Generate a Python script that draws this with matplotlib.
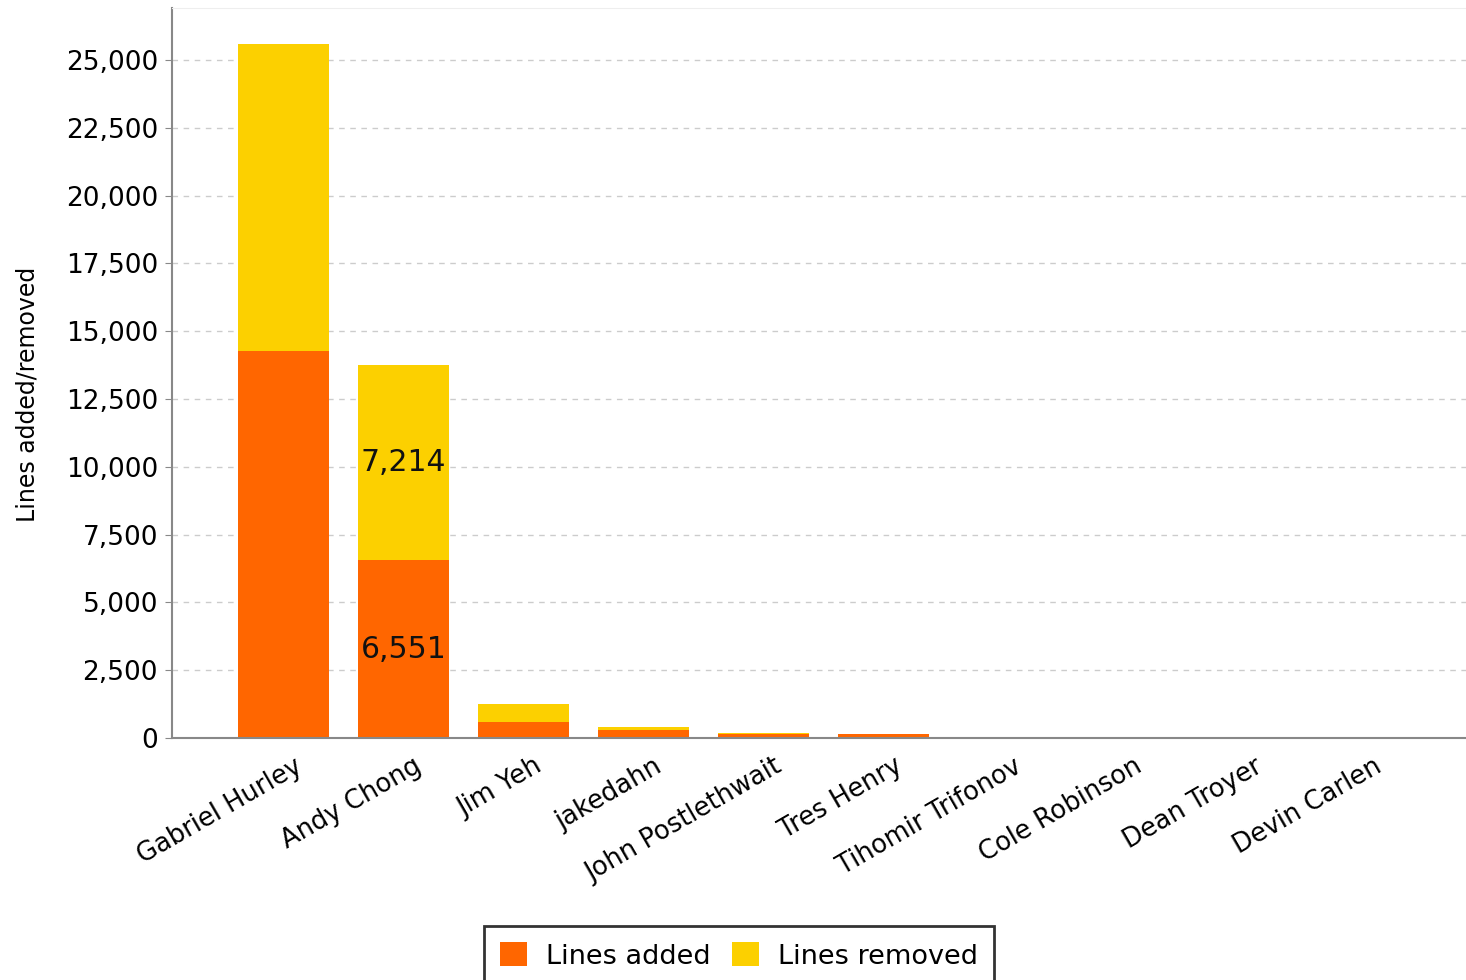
import matplotlib
matplotlib.use("Agg")
import matplotlib.pyplot as plt
import matplotlib.transforms as mtransforms
import numpy as np

# Contributors and their line counts
authors = ["Gabriel Hurley", "Andy Chong", "Jim Yeh", "jakedahn", "John Postlethwait",
           "Tres Henry", "Tihomir Trifonov", "Cole Robinson", "Dean Troyer", "Devin Carlen"]
lines_added = [14270, 6551, 600, 300, 150, 150, 15, 5, 5, 5]
lines_removed = [11320, 7214, 650, 90, 20, 10, 30, 5, 5, 5]

labelled = ["Andy Chong"]  # only these bars show value labels

orange = "#FF6600"
yellow = "#FCD000"

fig = plt.figure(figsize=(14.66, 9.8), dpi=100)
ax = fig.add_axes([0.1173, 0.247, 0.8827, 0.745])

x = np.arange(len(authors))
added = np.array(lines_added)
removed = np.array(lines_removed)

ax.bar(x, added, width=0.758, color=orange, zorder=2, label="Lines added")
ax.bar(x, removed, width=0.758, bottom=added, color=yellow, zorder=2, label="Lines removed")

# value labels in the middle of each segment
for i, name in enumerate(authors):
    if name in labelled:
        ax.text(x[i], added[i] / 2, f"{added[i]:,}", ha="center", va="center",
                fontsize=21.5, color="#111111", zorder=3)
        ax.text(x[i], added[i] + removed[i] / 2, f"{removed[i]:,}", ha="center", va="center",
                fontsize=21.5, color="#111111", zorder=3)

ax.set_xlim(-0.929, 9.854)
ax.set_ylim(0, 26920)
ax.set_yticks(np.arange(0, 25001, 2500))
ax.yaxis.set_major_formatter(matplotlib.ticker.FuncFormatter(lambda v, p: f"{int(v):,}"))
ax.yaxis.grid(True, linestyle=(0, (4, 4)), color="#CCCCCC", linewidth=1, zorder=0)
ax.xaxis.grid(False)

ax.set_xticks(x)
ax.set_xticklabels(authors, rotation=30, ha="right", rotation_mode="anchor", fontsize=18.5)
ax.tick_params(axis="x", length=0, pad=11)
ax.tick_params(axis="y", length=5, color="#888888", labelsize=19, pad=5)
shift = mtransforms.ScaledTranslation(10 / 100, 0, fig.dpi_scale_trans)
for lbl in ax.get_xticklabels():
    lbl.set_transform(lbl.get_transform() + shift)
ax.set_ylabel("Lines added/removed", fontsize=17)
ax.yaxis.set_label_coords(-0.102, 0.47)

for side in ["left", "bottom"]:
    ax.spines[side].set_color("#888888")
    ax.spines[side].set_linewidth(1.5)
ax.spines["top"].set_color("#EEEEEE")
ax.spines["right"].set_visible(False)

leg = fig.legend(loc="upper center", bbox_to_anchor=(739 / 1466, 1 - 926 / 980), ncol=2,
                 fontsize=19.5, frameon=True, fancybox=False, handlelength=1.0,
                 handleheight=1.0, handletextpad=0.7, columnspacing=0.8, borderpad=0.6,
                 borderaxespad=0)
leg.get_frame().set_edgecolor("black")
leg.get_frame().set_linewidth(2)

fig.savefig("out.png", dpi=100)
